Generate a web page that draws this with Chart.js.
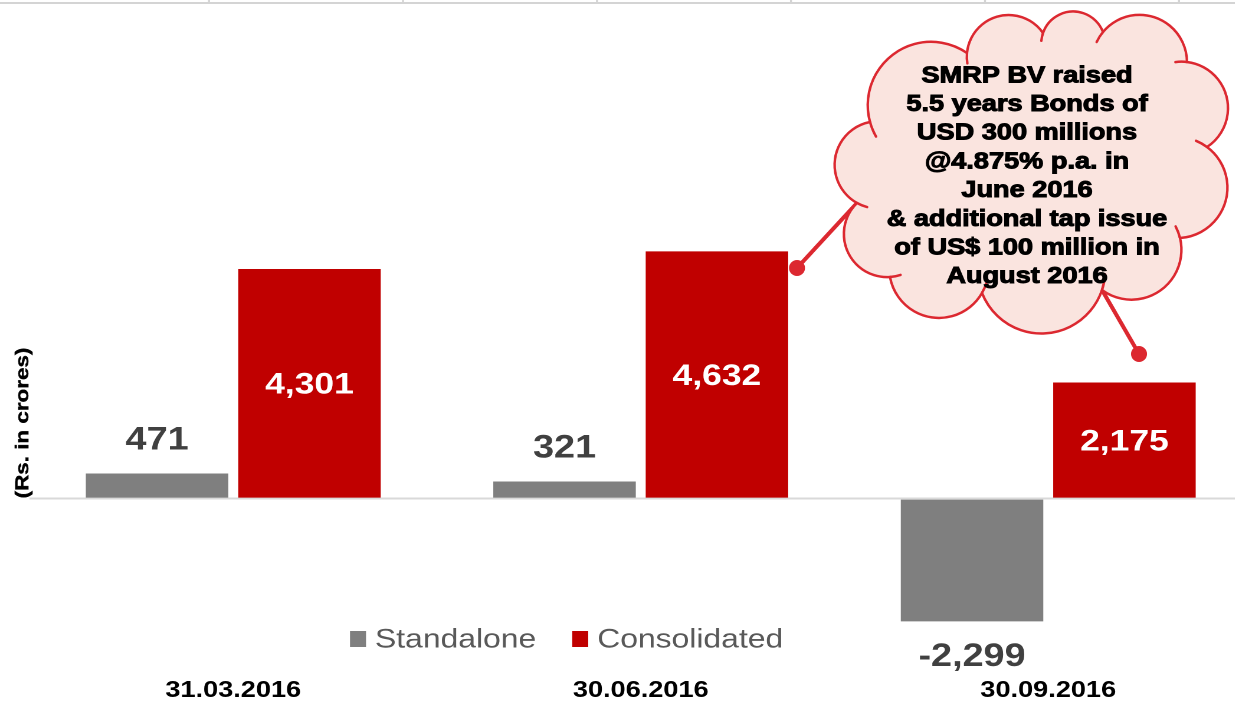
<!DOCTYPE html>
<html>
<head>
<meta charset="utf-8">
<script src="https://cdn.jsdelivr.net/npm/chart.js@4/dist/chart.umd.min.js"></script>
<style>
  html, body { margin: 0; padding: 0; background: #fff; overflow: hidden; }
  #wrap { width: 1235px; height: 703px; overflow: hidden; position: relative; }
  #inner { width: 1062px; height: 703px; transform: scaleX(1.18); transform-origin: 0 0; }
</style>
</head>
<body>
<div id="wrap"><div id="inner"><canvas id="c" width="1062" height="703"></canvas></div></div>
<script>
var categories = ['31.03.2016', '30.06.2016', '30.09.2016'];
var seriesNames = ['Standalone', 'Consolidated'];
var standalone = [471, 321, -2299];
var consolidated = [4301, 4632, 2175];
var calloutText = [
  'SMRP BV raised',
  '5.5 years Bonds of',
  'USD 300 millions',
  '@4.875% p.a. in',
  'June 2016',
  '& additional tap issue',
  'of US$ 100 million in',
  'August 2016'
];

var S = 1.18; // the picture is stretched sideways
var FONT = 'Arial, "Liberation Sans", sans-serif';
var GRAY = '#7f7f7f';
var RED = '#c00000';
var CLOUD_RED = '#dc2830';

// cloud outline cusps (page coords)
var cloudPts = [[967,53],[1043,33],[1103,32],[1187,62],[1207,147],[1180,238],[1102,290],[982,293],[890,277],[857,203],[870,122]];

function fmt(v) { return v.toLocaleString('en-US'); }

function bump(p0, p1, k) {
  var dx = p1[0] - p0[0], dy = p1[1] - p0[1];
  var len = Math.sqrt(dx * dx + dy * dy);
  var c = len / 2, h = c * k;
  var R = (c * c + h * h) / (2 * h);
  var nx = dy / len, ny = -dx / len;
  var mx = (p0[0] + p1[0]) / 2, my = (p0[1] + p1[1]) / 2;
  var cx = mx - nx * (R - h), cy = my - ny * (R - h);
  return { cx: cx, cy: cy, r: R,
    a0: Math.atan2(p0[1] - cy, p0[0] - cx),
    a1: Math.atan2(p1[1] - cy, p1[0] - cx) };
}

var overlay = {
  id: 'overlay',
  beforeDraw: function (chart) {
    var ctx = chart.ctx;
    ctx.save();
    ctx.scale(1 / S, 1);
    ctx.strokeStyle = '#d4d4d4';
    ctx.lineWidth = 2;
    ctx.beginPath();
    ctx.moveTo(0, 3); ctx.lineTo(1240, 3);
    for (var x = 209; x < 1240; x += 194) { ctx.moveTo(x, 0); ctx.lineTo(x, 3); }
    ctx.stroke();
    ctx.restore();
  },
  afterDatasetsDraw: function (chart) {
    var ctx = chart.ctx;
    ctx.save();
    ctx.textAlign = 'center';
    ctx.textBaseline = 'middle';
    chart.getDatasetMeta(0).data.forEach(function (bar, i) {
      var v = standalone[i];
      ctx.font = 'bold 32px ' + FONT;
      ctx.fillStyle = '#404040';
      var y = v >= 0 ? bar.y - 33 : bar.y + 36;
      ctx.fillText(fmt(v), bar.x, y);
    });
    chart.getDatasetMeta(1).data.forEach(function (bar, i) {
      ctx.font = 'bold 30px ' + FONT;
      ctx.fillStyle = '#ffffff';
      ctx.fillText(fmt(consolidated[i]), bar.x, (bar.y + bar.base) / 2 + 2);
    });
    ctx.restore();
  },
  afterDraw: function (chart) {
    var ctx = chart.ctx;
    var ds = chart.data.datasets;

    // legend
    ctx.save();
    ctx.font = '27px ' + FONT;
    ctx.textBaseline = 'middle';
    var lx = 350 / S, ly = 639;
    ds.forEach(function (d) {
      ctx.fillStyle = d.backgroundColor;
      ctx.fillRect(lx, ly - 8, 16 / S, 16);
      lx += 25 / S;
      ctx.fillStyle = '#595959';
      ctx.fillText(d.label, lx, ly + 1);
      lx += ctx.measureText(d.label).width + 36 / S;
    });
    ctx.restore();

    // axis title
    ctx.save();
    ctx.scale(1 / S, 1);
    ctx.translate(23, 423);
    ctx.rotate(-Math.PI / 2);
    ctx.scale(S, 1);
    ctx.font = 'bold 19px ' + FONT;
    ctx.fillStyle = '#000';
    ctx.strokeStyle = '#000';
    ctx.lineWidth = 0.4;
    ctx.textAlign = 'center';
    ctx.textBaseline = 'middle';
    ctx.fillText('(Rs. in crores)', 0, 0);
    ctx.strokeText('(Rs. in crores)', 0, 0);
    ctx.restore();

    // callout cloud
    ctx.save();
    ctx.scale(1 / S, 1);
    ctx.strokeStyle = CLOUD_RED;
    ctx.fillStyle = CLOUD_RED;
    ctx.lineWidth = 4;
    ctx.lineCap = 'round';
    [[[857, 203], [797, 268]], [[1102, 290], [1139, 354]]].forEach(function (l) {
      ctx.beginPath();
      ctx.moveTo(l[0][0], l[0][1]);
      ctx.lineTo(l[1][0], l[1][1]);
      ctx.stroke();
      ctx.beginPath();
      ctx.arc(l[1][0], l[1][1], 8, 0, Math.PI * 2);
      ctx.fill();
    });
    var arcs = cloudPts.map(function (p, i) {
      return bump(p, cloudPts[(i + 1) % cloudPts.length], 0.7);
    });
    ctx.beginPath();
    ctx.moveTo(cloudPts[0][0], cloudPts[0][1]);
    arcs.forEach(function (a) { ctx.arc(a.cx, a.cy, a.r, a.a0, a.a1, false); });
    ctx.closePath();
    ctx.fillStyle = '#fae4df';
    ctx.fill();
    ctx.lineWidth = 2.5;
    ctx.stroke();
    arcs.forEach(function (a) {
      ctx.beginPath();
      ctx.arc(a.cx, a.cy, a.r, a.a0 - 0.25, a.a0, false);
      ctx.stroke();
    });
    ctx.restore();

    ctx.save();
    ctx.font = 'bold 23px ' + FONT;
    ctx.fillStyle = '#000';
    ctx.strokeStyle = '#000';
    ctx.lineWidth = 1;
    ctx.textAlign = 'center';
    ctx.textBaseline = 'middle';
    calloutText.forEach(function (t, i) {
      var y = 76 + i * 28.7;
      ctx.fillText(t, 1027 / S, y);
      ctx.strokeText(t, 1027 / S, y);
    });
    ctx.restore();
  }
};

var chart = new Chart(document.getElementById('c'), {
  type: 'bar',
  data: {
    labels: categories,
    datasets: [
      { label: seriesNames[0], data: standalone, backgroundColor: GRAY },
      { label: seriesNames[1], data: consolidated, backgroundColor: RED }
    ]
  },
  options: {
    responsive: false,
    animation: false,
    devicePixelRatio: 2,
    categoryPercentage: 0.748,
    barPercentage: 0.935,
    layout: { padding: { top: 32, left: 25, right: 1, bottom: 0 } },
    plugins: { legend: { display: false }, tooltip: { enabled: false } },
    scales: {
      x: {
        grid: { display: false, drawTicks: false },
        border: { display: false },
        ticks: { color: '#000', padding: 1, maxRotation: 0, autoSkip: false,
                 font: { family: FONT, size: 23, weight: 'bold', lineHeight: 1 } }
      },
      y: {
        min: -3360,
        max: 8741,
        afterBuildTicks: function (axis) { axis.ticks = [{ value: 0 }]; },
        ticks: { display: false },
        grid: { color: '#d9d9d9', lineWidth: 2, drawTicks: false },
        border: { display: false }
      }
    }
  },
  plugins: [overlay]
});
</script>
</body>
</html>
